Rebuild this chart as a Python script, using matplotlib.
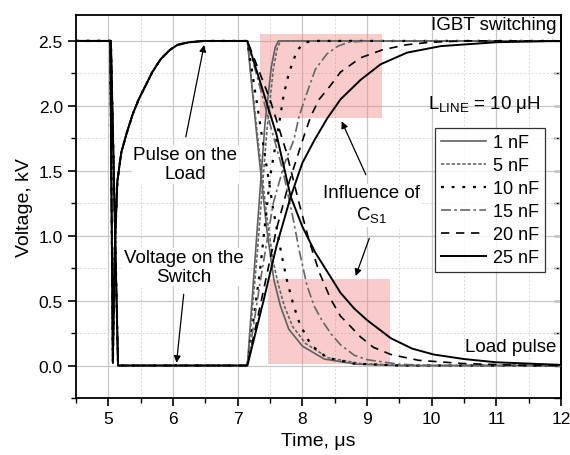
import numpy as np
import matplotlib
matplotlib.use("Agg")
import matplotlib.pyplot as plt
from matplotlib.patches import Rectangle

plt.rcParams['font.family'] = ['Liberation Sans', 'DejaVu Sans']

# --- Data (time in us, voltage in kV) ---
caps = ["1 nF", "5 nF", "10 nF", "15 nF", "20 nF", "25 nF"]

# turn-on part, shared by every capacitance
on_sw_t = [4.5, 5.04, 5.15, 7.15]
on_sw_v = [2.5, 2.5, 0.0, 0.0]
on_load_t = [4.5, 5.03, 5.07, 5.10, 5.14, 5.2, 5.29, 5.38, 5.47, 5.55, 5.68, 5.81, 5.95, 6.07, 6.25, 6.48, 7.15]
on_load_v = [2.5, 2.5, 0.02, 0.9, 1.42, 1.64, 1.8, 1.94, 2.05, 2.13, 2.26, 2.36, 2.43, 2.47, 2.49, 2.5, 2.5]

# switch voltage after turn-off
sw_t = {
    "1 nF": [7.15, 7.28, 7.42, 7.52, 7.58, 7.63, 12.0],
    "5 nF": [7.15, 7.30, 7.45, 7.55, 7.61, 7.66, 12.0],
    "10 nF": [7.15, 7.35, 7.5, 7.62, 7.71, 7.79, 7.92, 8.05, 8.2, 12.0],
    "15 nF": [7.15, 7.35, 7.55, 7.72, 7.87, 7.95, 8.05, 8.2, 8.38, 8.55, 8.72, 9.0, 12.0],
    "20 nF": [7.15, 7.4, 7.6, 7.8, 8.02, 8.13, 8.26, 8.44, 8.59, 8.9, 9.23, 9.6, 9.98, 10.5, 12.0],
    "25 nF": [7.15, 7.4, 7.6, 7.82, 8.0, 8.18, 8.38, 8.59, 8.9, 9.21, 9.62, 10.14, 11.0, 12.0],
}
sw_v = {
    "1 nF": [0.0, 0.9, 1.85, 2.3, 2.45, 2.5, 2.5],
    "5 nF": [0.0, 0.85, 1.8, 2.28, 2.44, 2.5, 2.5],
    "10 nF": [0.0, 0.75, 1.45, 1.8, 2.08, 2.25, 2.43, 2.49, 2.5, 2.5],
    "15 nF": [0.0, 0.65, 1.25, 1.55, 1.74, 1.92, 2.07, 2.28, 2.4, 2.46, 2.49, 2.5, 2.5],
    "20 nF": [0.0, 0.58, 1.05, 1.42, 1.76, 1.92, 2.05, 2.16, 2.26, 2.37, 2.43, 2.47, 2.49, 2.5, 2.5],
    "25 nF": [0.0, 0.5, 0.92, 1.3, 1.56, 1.73, 1.9, 2.05, 2.2, 2.32, 2.41, 2.46, 2.49, 2.5],
}

# load voltage after turn-off
load_t = {
    "1 nF": [7.15, 7.3, 7.45, 7.52, 7.56, 7.66, 7.79, 8.0, 8.34, 8.85, 9.5, 12.0],
    "5 nF": [7.15, 7.3, 7.45, 7.55, 7.62, 7.72, 7.85, 8.05, 8.4, 8.9, 9.6, 12.0],
    "10 nF": [7.15, 7.35, 7.55, 7.68, 7.76, 7.86, 7.96, 8.13, 8.38, 8.8, 9.5, 12.0],
    "15 nF": [7.15, 7.45, 7.7, 7.85, 7.95, 8.07, 8.18, 8.3, 8.45, 8.59, 8.8, 9.0, 9.5, 10.0, 12.0],
    "20 nF": [7.15, 7.5, 7.75, 7.95, 8.1, 8.26, 8.44, 8.59, 8.69, 8.9, 9.1, 9.37, 9.8, 10.5, 11.5, 12.0],
    "25 nF": [7.15, 7.6, 7.82, 8.0, 8.2, 8.44, 8.59, 8.8, 9.0, 9.37, 9.7, 10.03, 10.5, 11.0, 12.0],
}
load_v = {
    "1 nF": [2.5, 1.75, 1.05, 0.8, 0.66, 0.46, 0.28, 0.15, 0.05, 0.01, 0.0, 0.0],
    "5 nF": [2.5, 1.8, 1.15, 0.8, 0.64, 0.46, 0.3, 0.17, 0.06, 0.015, 0.0, 0.0],
    "10 nF": [2.5, 1.85, 1.2, 0.85, 0.66, 0.47, 0.32, 0.16, 0.06, 0.015, 0.0, 0.0],
    "15 nF": [2.5, 1.95, 1.5, 1.15, 0.89, 0.62, 0.46, 0.35, 0.24, 0.16, 0.08, 0.045, 0.01, 0.0, 0.0],
    "20 nF": [2.5, 2.05, 1.65, 1.25, 0.97, 0.72, 0.51, 0.38, 0.33, 0.22, 0.14, 0.085, 0.04, 0.015, 0.0, 0.0],
    "25 nF": [2.5, 1.78, 1.3, 1.07, 0.87, 0.68, 0.56, 0.44, 0.35, 0.21, 0.13, 0.085, 0.05, 0.025, 0.005],
}

# line styles: (colour, dash pattern, width)
styles = {
    "1 nF": ("#606060", "-", 1.2),
    "5 nF": ("#666666", (0, (2, 1.2)), 1.2),
    "10 nF": ("black", (0, (1.3, 3.5)), 1.6),
    "15 nF": ("#666666", (0, (6, 2, 1.5, 2)), 1.2),
    "20 nF": ("black", (0, (5, 4)), 1.2),
    "25 nF": ("black", "-", 1.4),
}

fig = plt.figure(figsize=(5.7, 4.56), dpi=100)
ax = fig.add_axes([0.1333, 0.125, 0.851, 0.84])

# highlighted regions
ax.add_patch(Rectangle((7.35, 1.905), 1.88, 0.645, facecolor="#f08080", alpha=0.4, lw=0, zorder=1))
ax.add_patch(Rectangle((7.47, 0.015), 1.88, 0.652, facecolor="#f08080", alpha=0.4, lw=0, zorder=1))

for c in caps:
    col, ls, lw = styles[c]
    t1 = on_sw_t + sw_t[c][1:]
    v1 = on_sw_v + sw_v[c][1:]
    t2 = on_load_t + load_t[c][1:]
    v2 = on_load_v + load_v[c][1:]
    ax.plot(t1, v1, color=col, ls=ls, lw=lw, zorder=3, label=c)
    ax.plot(t2, v2, color=col, ls=ls, lw=lw, zorder=3)

ax.set_xlim(4.5, 12)
ax.set_ylim(-0.25, 2.7)
ax.set_xticks(np.arange(5, 13, 1))
ax.set_xticks(np.arange(4.5, 12.01, 0.5), minor=True)
ax.set_yticks(np.arange(0, 2.51, 0.5))
ax.set_yticks(np.arange(-0.25, 2.7, 0.25), minor=True)
ax.set_yticklabels(["0.0", "0.5", "1.0", "1.5", "2.0", "2.5"])
ax.grid(which="major", color="#c8c8c8", lw=0.9, zorder=0)
ax.grid(which="minor", color="#d8d8d8", lw=0.7, ls=(0, (2, 2)), zorder=0)
ax.set_axisbelow(True)
ax.tick_params(which="both", direction="out", labelsize=12.5, top=False, right=False)
ax.tick_params(which="major", length=6, width=1.2)
ax.tick_params(which="minor", length=3.5, width=1.0)
for s in ax.spines.values():
    s.set_linewidth(1.3)

# inward ticks on the right edge
sec = ax.secondary_yaxis("right")
sec.set_yticks(np.arange(0, 2.51, 0.5))
sec.set_yticks(np.arange(-0.25, 2.7, 0.25), minor=True)
sec.tick_params(which="both", direction="in", length=5, width=1.0, labelright=False)
sec.spines["right"].set_linewidth(1.3)

ax.set_xlabel("Time, μs", fontsize=14)
ax.set_ylabel("Voltage, kV", fontsize=14)

# annotations
fs = 13.5
ax.text(11.93, 2.63, "IGBT switching", ha="right", va="center", fontsize=fs)
ax.text(11.93, 0.15, "Load pulse", ha="right", va="center", fontsize=fs, zorder=4)
ax.text(10.82, 2.02, r"L$_{\mathregular{LINE}}$ = 10 μH", ha="center", va="center", fontsize=fs)
ax.text(6.19, 1.55, "Pulse on the\nLoad", ha="center", va="center", fontsize=fs,
        linespacing=1.15, bbox=dict(facecolor="white", edgecolor="none", pad=1), zorder=5)
ax.text(6.17, 0.76, "Voltage on the\nSwitch", ha="center", va="center", fontsize=fs,
        linespacing=1.15, bbox=dict(facecolor="white", edgecolor="none", pad=1), zorder=5)
ax.text(9.07, 1.24, "Influence of\nC$_{\mathregular{S1}}$", ha="center", va="center", fontsize=fs,
        linespacing=1.3, bbox=dict(facecolor="white", edgecolor="none", pad=1), zorder=5)

arrow = dict(arrowstyle="-|>", color="black", lw=0.9, mutation_scale=10)
ax.annotate("", xy=(6.49, 2.49), xytext=(6.19, 1.74), arrowprops=arrow, zorder=6)
ax.annotate("", xy=(6.05, 0.0), xytext=(6.17, 0.57), arrowprops=arrow, zorder=6)
ax.annotate("", xy=(8.59, 1.9), xytext=(9.0, 1.45), arrowprops=arrow, zorder=6)
ax.annotate("", xy=(8.81, 0.67), xytext=(9.05, 1.0), arrowprops=arrow, zorder=6)

leg = ax.legend(loc="upper right", bbox_to_anchor=(0.967, 0.705), fontsize=13, frameon=True,
                fancybox=False, edgecolor="black", handlelength=2.5, handletextpad=0.35,
                labelspacing=0.33, borderpad=0.35, borderaxespad=0)
leg.get_frame().set_linewidth(0.9)
leg.set_zorder(7)

fig.savefig("out.png", dpi=100)
